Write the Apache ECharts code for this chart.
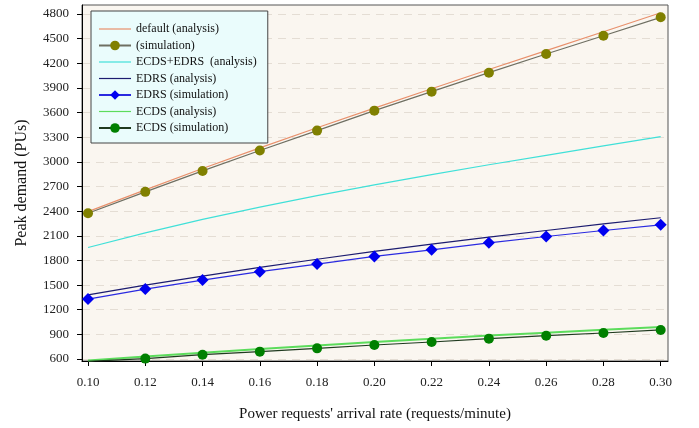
<!DOCTYPE html>
<html>
<head>
<meta charset="utf-8">
<script src="https://cdn.jsdelivr.net/npm/echarts@6/dist/echarts.min.js"></script>
<style>html,body{margin:0;padding:0;background:#fff;}#c{width:699px;height:428px;}</style>
</head>
<body>
<div id="c"></div>
<script>
var xValues = [0.10, 0.12, 0.14, 0.16, 0.18, 0.20, 0.22, 0.24, 0.26, 0.28, 0.30];
var xTicks = [0.10, 0.12, 0.14, 0.16, 0.18, 0.20, 0.22, 0.24, 0.26, 0.28, 0.30];
var yTicks = [600, 900, 1200, 1500, 1800, 2100, 2400, 2700, 3000, 3300, 3600, 3900, 4200, 4500, 4800];
var defaultAnalysis = [2395, 2660, 2920, 3170, 3415, 3655, 3890, 4125, 4355, 4585, 4815];
var defaultSim = [2375, 2635, 2890, 3138, 3381, 3624, 3855, 4086, 4314, 4536, 4760];
var ecdsEdrsAnalysis = [1958, 2135, 2300, 2450, 2590, 2720, 2845, 2965, 3080, 3195, 3308];
var edrsAnalysis = [1382, 1500, 1610, 1715, 1815, 1910, 2000, 2085, 2165, 2245, 2320];
var edrsSim = [1330, 1452, 1561, 1663, 1756, 1849, 1930, 2015, 2092, 2165, 2234];
var ecdsAnalysis = [582, 630, 677, 722, 765, 806, 846, 885, 921, 956, 990];
var ecdsSim = [572, 605, 653, 690, 730, 771, 807, 848, 884, 917, 954];

function pairs(ys) { return xValues.map(function (x, i) { return [x, ys[i]]; }); }
var FONT = '"Liberation Serif", "DejaVu Serif", serif';
var LINE_ICON = 'path://M0,0 M0,5.4 L32,5.4 L32,6.6 L0,6.6 Z M32,12';

function analysis(name, data, color, w) {
  return { name: name, type: 'line', data: pairs(data), symbol: 'none', showSymbol: false,
    lineStyle: { color: color, width: w || 1.2 }, itemStyle: { color: color }, z: 2, silent: true };
}
function sim(name, data, lineColor, markColor, symbol, size) {
  return { name: name, type: 'line', data: pairs(data), symbol: symbol, symbolSize: size, showSymbol: true,
    lineStyle: { color: lineColor, width: 1.2 }, itemStyle: { color: markColor, borderWidth: 0 }, z: 3, silent: true };
}

var chart = echarts.init(document.getElementById('c'), null, { renderer: 'canvas' });
chart.setOption({
  animation: false,
  backgroundColor: '#ffffff',
  grid: { left: 82, right: 31, top: 5, bottom: 67, show: true, backgroundColor: '#faf6f0', borderColor: '#555555', borderWidth: 1 },
  legend: {
    orient: 'vertical', left: 91, top: 11,
    backgroundColor: '#eafcfc', borderColor: '#444444', borderWidth: 1,
    padding: [12, 11, 9, 7],
    itemWidth: 32, itemHeight: 12, itemGap: 4.5,
    textStyle: { fontFamily: FONT, fontSize: 12, color: '#111', lineHeight: 12 },
    data: [
      { name: 'default (analysis)', icon: LINE_ICON },
      { name: '(simulation)' },
      { name: 'ECDS+EDRS  (analysis)', icon: LINE_ICON },
      { name: 'EDRS (analysis)', icon: LINE_ICON },
      { name: 'EDRS (simulation)' },
      { name: 'ECDS (analysis)', icon: LINE_ICON },
      { name: 'ECDS (simulation)' }
    ]
  },
  xAxis: {
    type: 'value', min: 0.0979, max: 0.30255,
    name: "Power requests' arrival rate (requests/minute)", nameLocation: 'middle', nameGap: 46,
    nameTextStyle: { fontFamily: FONT, fontSize: 15, color: '#111' },
    axisLine: { show: true, onZero: false, lineStyle: { color: '#000', width: 1 } },
    axisTick: { show: true, inside: false, length: 5, customValues: xTicks, lineStyle: { color: '#000' } },
    axisLabel: { customValues: xTicks, margin: 15, fontFamily: FONT, fontSize: 13, color: '#222',
      formatter: function (v) { return v.toFixed(2); } },
    splitLine: { show: false }
  },
  yAxis: {
    type: 'value', min: 576, max: 4910,
    name: 'Peak demand (PUs)', nameLocation: 'middle', nameGap: 52,
    nameTextStyle: { fontFamily: FONT, fontSize: 16, color: '#111' },
    axisLine: { show: true, lineStyle: { color: '#000', width: 1 } },
    axisTick: { show: true, inside: false, length: 5, customValues: yTicks, lineStyle: { color: '#000' } },
    axisLabel: { customValues: yTicks, margin: 13, fontFamily: FONT, fontSize: 13, color: '#222',
      formatter: function (v) { return String(Math.round(v)); } },
    splitLine: { show: true, lineStyle: { color: '#e4ddd4', type: [8, 6], width: 1 } }
  },
  series: [
    analysis('default (analysis)', defaultAnalysis, '#e8906c'),
    sim('(simulation)', defaultSim, '#6f6f62', '#808000', 'circle', 10),
    analysis('ECDS+EDRS  (analysis)', ecdsEdrsAnalysis, '#40e0d8'),
    analysis('EDRS (analysis)', edrsAnalysis, '#1c1c70'),
    sim('EDRS (simulation)', edrsSim, '#2a2ae0', '#0000f0', 'diamond', 12),
    analysis('ECDS (analysis)', ecdsAnalysis, '#5cdc5c', 2),
    sim('ECDS (simulation)', ecdsSim, '#1f3a1f', '#008000', 'circle', 10)
  ]
});
</script>
</body>
</html>
